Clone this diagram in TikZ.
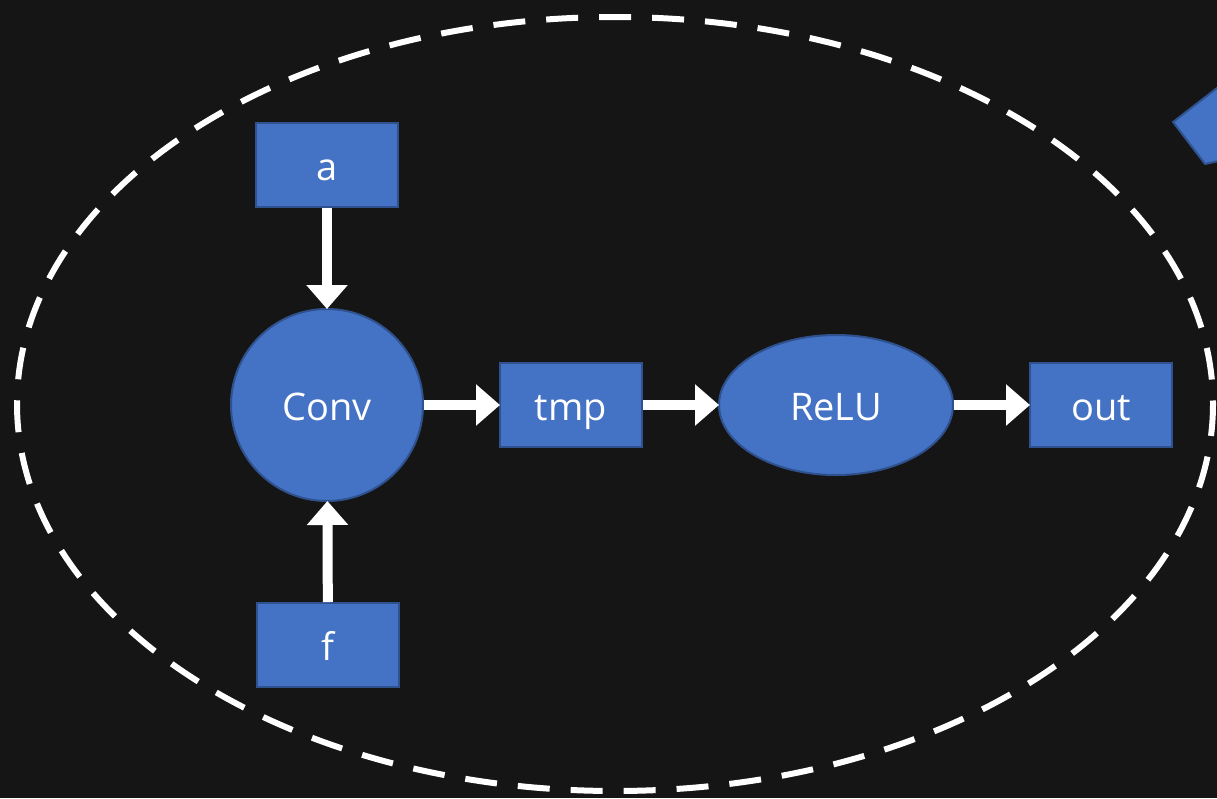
\documentclass[tikz,border=0pt]{standalone}
\usepackage{fontspec}
\setmainfont{Open Sans}
\usetikzlibrary{arrows.meta,shapes.geometric}
\definecolor{bgdark}{HTML}{151515}
\definecolor{boxblue}{HTML}{4472C4}
\definecolor{boxedge}{HTML}{2F528F}
\tikzset{
  blk/.style={draw=boxedge, line width=2pt, fill=boxblue, text=white,
    font=\fontsize{38}{42}\selectfont, inner sep=0pt,
    text height=30pt, text depth=0pt},
  rectbox/.style={blk, rectangle, minimum width=142pt, minimum height=84pt},
  roundop/.style={blk, circle, minimum size=192pt},
  ovalop/.style={blk, ellipse, minimum width=234pt, minimum height=140pt},
  flow/.style={white, line width=10pt,
    -{Triangle[length=24pt, width=40pt]}, shorten >=-1pt},
  group/.style={white, line width=6pt, dash pattern=on 32pt off 21pt}
}
\begin{document}
\begin{tikzpicture}[x=1pt, y=-1pt]
  \useasboundingbox (0,0) rectangle (1217,798);
  \fill[bgdark] (0,0) rectangle (1217,798);
  \clip (0,0) rectangle (1217,798);

  % tilted block peeking in at the right edge
  \filldraw[fill=boxblue, draw=boxedge, line width=2pt]
    (1173,122) -- (1261,54) -- (1325,138) -- (1205,164) -- cycle;

  % dashed group outline
  \draw[group] (615,404) ellipse [x radius=598, y radius=387];

  \node[rectbox] (a) at (327,165) {a};
  \node[rectbox] (f) at (328,645) {f};
  \node[roundop] (conv) at (327,405) {Conv};
  \node[rectbox] (tmp) at (571,405) {tmp};
  \node[ovalop] (relu) at (836,405) {ReLU};
  \node[rectbox] (out) at (1101,405) {out};

  \draw[flow] (a) -- (conv);
  \draw[flow] (f) -- (conv);
  \draw[flow] (conv) -- (tmp);
  \draw[flow] (tmp) -- (relu);
  \draw[flow] (relu) -- (out);
\end{tikzpicture}
\end{document}
